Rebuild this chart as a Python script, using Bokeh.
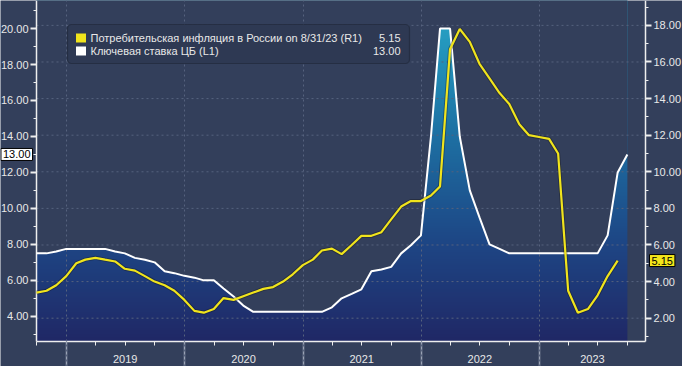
import numpy as np
import pandas as pd
from bokeh.plotting import figure
from bokeh.models import (Range1d, LinearAxis, DatetimeAxis, FixedTicker, NumeralTickFormatter,
                          DatetimeTickFormatter, BoxAnnotation, Label)
from bokeh.embed import file_html
from bokeh.resources import INLINE

# ---------------- data (monthly, month-end) ----------------
first_month_after_start = "2018-10-01"   # series start at 2018-09-30
key_rate = [7.5, 7.5, 7.6, 7.75,
            7.75, 7.75, 7.75, 7.75, 7.6, 7.5, 7.25, 7.15, 7.0, 6.5, 6.4, 6.25,
            6.15, 6.0, 6.0, 5.55, 5.1, 4.6, 4.25, 4.25, 4.25, 4.25, 4.25, 4.25,
            4.25, 4.25, 4.5, 5.0, 5.25, 5.5, 6.5, 6.6, 6.75, 7.5, 7.95, 8.5,
            14.0, 20.0, 20.0, 14.0, 11.0, 9.5, 8.0, 7.75, 7.5, 7.5, 7.5, 7.5,
            7.5, 7.5, 7.5, 7.5, 7.5, 7.5, 8.5, 12.0, 13.0]
cpi = [3.4, 3.5, 3.8, 4.3,
       5.0, 5.2, 5.3, 5.2, 5.1, 4.7, 4.6, 4.3, 4.0, 3.8, 3.5, 3.0,
       2.4, 2.3, 2.5, 3.1, 3.0, 3.2, 3.4, 3.6, 3.7, 4.0, 4.4, 4.9,
       5.2, 5.7, 5.8, 5.5, 6.0, 6.5, 6.5, 6.7, 7.4, 8.1, 8.4, 8.4,
       8.7, 9.2, 16.7, 17.8, 17.1, 15.9, 15.1, 14.3, 13.7, 12.6, 12.0, 11.9,
       11.8, 11.0, 3.5, 2.3, 2.5, 3.25, 4.3, 5.15]
legend_cpi = "Потребительская инфляция в России on 8/31/23 (R1)"
legend_kr = "Ключевая ставка ЦБ (L1)"
years = [2019, 2020, 2021, 2022, 2023]
left_ticks = [4, 6, 8, 10, 12, 14, 16, 18, 20]
left_minor = list(range(3, 22))
right_ticks = [2, 4, 6, 8, 10, 12, 14, 16, 18]
right_minor = list(range(1, 20))
x_start, x_end = "2018-09-30", "2023-11-25"
left_lim = (1.21, 21.56)
right_lim = (-0.64, 19.36)
axis_left_level = 2.62
axis_right_level = 0.75

# ---------------- helpers ----------------
def to_ms(d):
    return (pd.DatetimeIndex(pd.to_datetime(d)).asi8 // 10**6).astype(float)

dates_kr = pd.date_range(first_month_after_start, periods=len(key_rate), freq="MS") - pd.Timedelta(days=1)
dates_cpi = dates_kr[:len(cpi)]
kr_ms = to_ms(dates_kr)
cpi_ms = to_ms(dates_cpi)
x0 = to_ms([x_start])[0]
x1 = to_ms([x_end])[0]
year_starts = to_ms([f"{y}-01-01" for y in years])
label_pos = list(to_ms([f"{y}-07-01" for y in years[:-1]])) + [(year_starts[-1] + x1) / 2]
quarters = to_ms(pd.date_range("2018-10-01", "2023-10-01", freq="QS"))

BG = "#333f5b"
GRID = "#56627e"
AXC = "#eeeeee"
TXT = "#e8e8e8"
YEL = "#f0e41c"
FONT = "Liberation Sans"
W, H = 682, 366          # whole figure = frame
PL, PR = 36, 37          # room for the y axes inside the frame
FW = W - PL - PR         # width of the plotting area

def px_x(px):            # px measured from the left edge of the plotting area
    return x0 + px / FW * (x1 - x0)

def px_y(py):            # py measured from the top
    return left_lim[1] - py / H * (left_lim[1] - left_lim[0])

p = figure(frame_width=W, frame_height=H, x_axis_type="datetime",
           x_range=Range1d(px_x(-PL), px_x(FW + PR)), y_range=Range1d(*left_lim),
           output_backend="svg", toolbar_location=None,
           min_border_left=0, min_border_right=0, min_border_top=0, min_border_bottom=0,
           background_fill_color=BG, border_fill_color=BG, outline_line_color=None)
p.extra_y_ranges = {"right": Range1d(*right_lim)}

# ---------------- gradient area under key rate ----------------
n = 256
vals = np.linspace(axis_left_level, left_lim[1], n)
stops_v = [axis_left_level, 8, 14, 20, left_lim[1]]
stops_c = [(32, 40, 102), (30, 70, 133), (29, 112, 163), (38, 158, 194), (40, 166, 200)]
img = np.empty((n, 1), dtype=np.uint32)
view = img.view(dtype=np.uint8).reshape((n, 1, 4))
for ch in range(3):
    view[:, 0, ch] = np.interp(vals, stops_v, [c[ch] for c in stops_c]).astype(np.uint8)
view[:, 0, 3] = 255
p.image_rgba(image=[img], x=kr_ms[0], y=axis_left_level, dw=kr_ms[-1] - kr_ms[0],
             dh=left_lim[1] - axis_left_level)
p.patch(x=list(kr_ms) + [kr_ms[-1], kr_ms[0]], y=list(key_rate) + [40, 40],
        fill_color=BG, line_color=None)

# ---------------- grids ----------------
p.xgrid.ticker = FixedTicker(ticks=list(year_starts))
p.xgrid.grid_line_color = GRID
p.xgrid.grid_line_dash = "2 3"
p.xgrid.level = "guide"
p.ygrid.visible = False
p.segment(x0=[x0] * len(right_ticks), x1=[x1] * len(right_ticks), y0=right_ticks,
          y1=right_ticks, y_range_name="right", line_color=GRID, line_dash="2 3",
          line_width=1, level="guide")

# ---------------- lines ----------------
p.line(kr_ms, key_rate, line_color="white", line_width=2, level="annotation")
p.line(cpi_ms, cpi, y_range_name="right", line_color="#101010", line_alpha=0.35,
       line_width=4, level="annotation")
p.line(cpi_ms, cpi, y_range_name="right", line_color=YEL, line_width=2.2, level="annotation")

# ---------------- axes ----------------
def style_y(ax):
    ax.formatter = NumeralTickFormatter(format="0.00")
    ax.axis_line_color = AXC
    ax.axis_line_width = 1.5
    ax.major_tick_line_color = AXC
    ax.major_tick_line_width = 2
    ax.major_tick_out = 6
    ax.major_tick_in = 0
    ax.minor_tick_line_color = AXC
    ax.minor_tick_out = 3
    ax.minor_tick_in = 0
    ax.major_label_standoff = 2
    ax.major_label_text_font = FONT
    ax.major_label_text_font_size = "11px"
    ax.major_label_text_color = TXT

ya = p.yaxis[0]
ya.fixed_location = x0
ya.ticker = FixedTicker(ticks=left_ticks, minor_ticks=left_minor)
ya.bounds = (axis_left_level, left_lim[1])
style_y(ya)

yr = LinearAxis(y_range_name="right", fixed_location=x1,
                ticker=FixedTicker(ticks=right_ticks, minor_ticks=right_minor),
                bounds=(axis_right_level, right_lim[1]))
style_y(yr)
p.add_layout(yr, "right")

xa = p.xaxis[0]
xa.fixed_location = axis_left_level
xa.bounds = (x0, x1)
xa.ticker = FixedTicker(ticks=label_pos, minor_ticks=list(quarters))
xa.formatter = DatetimeTickFormatter(years="%Y", months="%Y", days="%Y", hours="%Y",
                                     hourmin="%Y", minutes="%Y", minsec="%Y",
                                     seconds="%Y", milliseconds="%Y", microseconds="%Y")
xa.axis_line_color = AXC
xa.axis_line_width = 1.5
xa.major_tick_out = 0
xa.major_tick_in = 0
xa.minor_tick_line_color = AXC
xa.minor_tick_out = 4
xa.minor_tick_in = 0
xa.major_label_standoff = 10
xa.major_label_text_font = FONT
xa.major_label_text_font_size = "11px"
xa.major_label_text_color = TXT

sep = DatetimeAxis(fixed_location=axis_left_level,
                   ticker=FixedTicker(ticks=list(year_starts), minor_ticks=[]),
                   major_tick_out=30, major_tick_in=0, major_tick_line_color="#9aa2b4",
                   major_tick_line_width=1.5, axis_line_color=None,
                   minor_tick_line_color=None, major_label_text_alpha=0,
                   major_label_text_font_size="1px")
p.add_layout(sep, "below")

# ---------------- legend ----------------
p.add_layout(BoxAnnotation(left=px_x(31), right=px_x(373), top=px_y(24), bottom=px_y(63),
                           fill_color="#2e3953", fill_alpha=1, line_color="#0c0f16",
                           line_width=1.2, border_radius=4))
rows = [(37.6, YEL, legend_cpi, f"{cpi[-1]:.2f}"), (50.6, "white", legend_kr, f"{key_rate[-1]:.2f}")]
for yy, col, txt, v in rows:
    p.add_layout(BoxAnnotation(left=px_x(39.5), right=px_x(49.5), top=px_y(yy - 4.5),
                               bottom=px_y(yy + 4.5), fill_color=col, fill_alpha=1,
                               line_color=None))
    p.add_layout(Label(x=px_x(54), y=px_y(yy), text=txt, text_font=FONT,
                       text_font_size="11px", text_color=TXT, text_baseline="middle"))
    p.add_layout(Label(x=px_x(364), y=px_y(yy), text=v, text_font=FONT,
                       text_font_size="11px", text_color=TXT, text_baseline="middle",
                       text_align="right"))

# ---------------- last-value tags ----------------
p.add_layout(Label(x=px_x(-4), y=key_rate[-1], text=f"{key_rate[-1]:.2f}", text_font=FONT,
                   text_font_size="11px", text_color="black", text_baseline="middle",
                   text_align="right", background_fill_color="white",
                   border_line_color="black", padding=2))
p.add_layout(Label(x=px_x(FW + 4), y=cpi[-1], y_range_name="right", text=f"{cpi[-1]:.2f}",
                   text_font=FONT, text_font_size="11px", text_color="black",
                   text_baseline="middle", text_align="left",
                   background_fill_color="#f3e61a", border_line_color="black", padding=2))

open("out.html", "w").write(file_html(p, INLINE))
